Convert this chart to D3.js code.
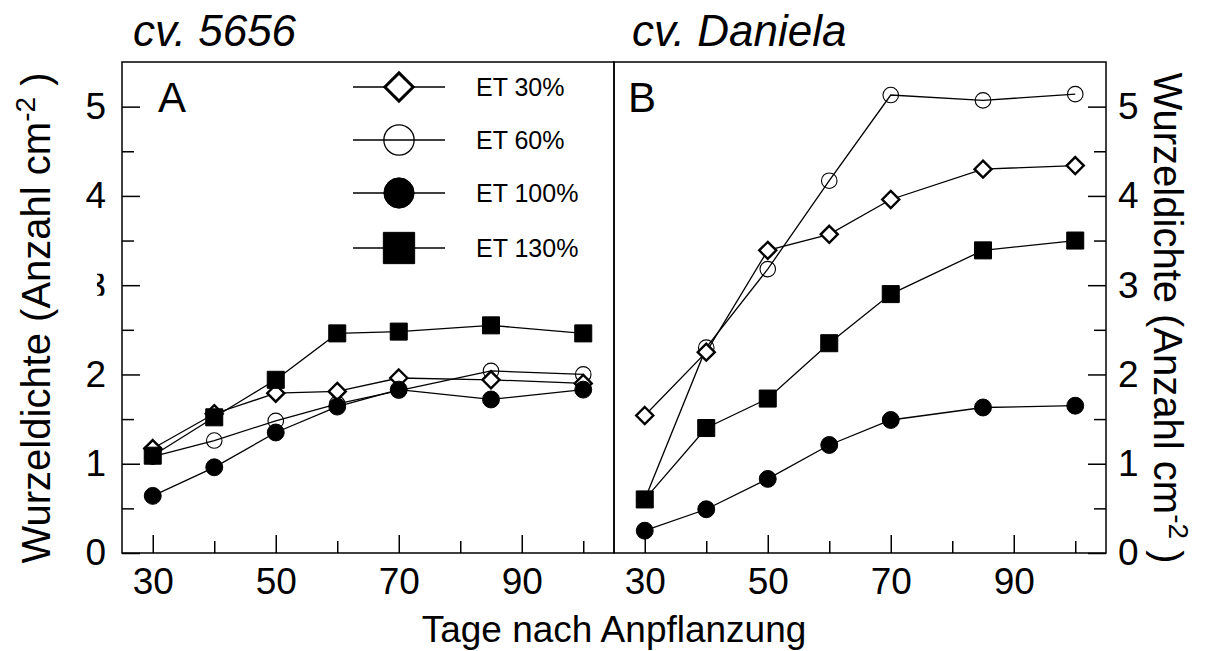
<!DOCTYPE html>
<html>
<head>
<meta charset="utf-8">
<script src="https://cdn.jsdelivr.net/npm/d3@7"></script>
<style>
  body { margin: 0; background: #fff; }
  svg { font-family: "Liberation Sans", Arial, sans-serif; }
</style>
</head>
<body>
<div id="chart"></div>
<script>
// data
const days = [30, 40, 50, 60, 70, 85, 100];
const seriesNames = ["ET 30%", "ET 60%", "ET 100%", "ET 130%"];

// panel A, cv. 5656
const a_et30  = [1.17, 1.56, 1.79, 1.81, 1.96, 1.94, 1.90];
const a_et60  = [1.08, 1.26, 1.48, 1.67, 1.82, 2.04, 2.00];
const a_et100 = [0.64, 0.96, 1.35, 1.64, 1.83, 1.72, 1.83];
const a_et130 = [1.09, 1.52, 1.94, 2.46, 2.48, 2.55, 2.46];

// panel B, cv. Daniela
const b_et30  = [1.54, 2.25, 3.39, 3.57, 3.96, 4.30, 4.34];
const b_et60  = [0.60, 2.30, 3.18, 4.17, 5.13, 5.07, 5.14];
const b_et100 = [0.25, 0.49, 0.83, 1.21, 1.49, 1.63, 1.65];
const b_et130 = [0.60, 1.40, 1.73, 2.35, 2.90, 3.39, 3.50];

const xMajor = [30, 50, 70, 90];
const xMinor = [40, 60, 80, 100];
const yMajor = [0, 1, 2, 3, 4, 5];
const yMinor = [0.5, 1.5, 2.5, 3.5, 4.5];

const W = 1209, H = 651;
const svg = d3.select("#chart").append("svg")
    .attr("width", W)
    .attr("height", H);

const plotTop = 62, plotBottom = 553;
const y = d3.scaleLinear().domain([0, 5.5]).range([plotBottom, plotTop]);
const xA = d3.scaleLinear().domain([25, 105]).range([122, 614]);
const xB = d3.scaleLinear().domain([25, 105]).range([614, 1106]);

// diamond = square turned 45 degrees (d3's own diamond is too narrow)
const squareDiamond = {
    draw(ctx, size) {
        const r = Math.sqrt(size) / 2;
        ctx.moveTo(0, -r); ctx.lineTo(r, 0); ctx.lineTo(0, r); ctx.lineTo(-r, 0); ctx.closePath();
    }
};

// marker style per series: [size in plot, size in legend]
const marker = {
    "ET 30%":  { type: squareDiamond,    fill: "#fff", sw: [2.4, 3],   size: [290, 800] },
    "ET 60%":  { type: d3.symbolCircle,  fill: "none", sw: [1.1, 1.3], size: [190, 720] },
    "ET 100%": { type: d3.symbolCircle,  fill: "#000", sw: [1, 1],     size: [225, 720] },
    "ET 130%": { type: d3.symbolSquare,  fill: "#000", sw: [1, 1],     size: [290, 980] }
};

function drawMarker(g, name, cx, cy, k) {
    const m = marker[name];
    g.append("path")
        .attr("d", d3.symbol().type(m.type).size(m.size[k])())
        .attr("transform", `translate(${cx},${cy})`)
        .attr("fill", m.fill)
        .attr("stroke", "#000")
        .attr("stroke-width", m.sw[k]);
}

function drawPanel(x, data, side) {
    const g = svg.append("g");

    // x axis ticks (inward)
    g.append("g")
        .attr("transform", `translate(0,${plotBottom})`)
        .call(d3.axisBottom(x).tickValues(xMajor).tickSize(-18).tickPadding(15))
        .call(a => a.select(".domain").remove())
        .call(a => a.selectAll("text").attr("font-size", 37).attr("font-family", "Liberation Sans, Arial, sans-serif"));
    g.append("g")
        .attr("transform", `translate(0,${plotBottom})`)
        .call(d3.axisBottom(x).tickValues(xMinor).tickSize(-12).tickFormat(""))
        .call(a => a.select(".domain").remove());

    // y axis on the outer side
    const xPos = side === "left" ? x.range()[0] : x.range()[1];
    const axMaj = side === "left" ? d3.axisLeft(y) : d3.axisRight(y);
    const axMin = side === "left" ? d3.axisLeft(y) : d3.axisRight(y);
    const yg = g.append("g")
        .attr("transform", `translate(${xPos},0)`)
        .call(axMaj.tickValues(yMajor).tickSize(-18).tickPadding(side === "left" ? 16 : 12).tickFormat(d3.format("d")))
        .call(a => a.select(".domain").remove())
        .call(a => a.selectAll("text").attr("font-size", 37).attr("font-family", "Liberation Sans, Arial, sans-serif"));
    g.append("g")
        .attr("transform", `translate(${xPos},0)`)
        .call(axMin.tickValues(yMinor).tickSize(-12).tickFormat(""))
        .call(a => a.select(".domain").remove());

    g.selectAll(".tick line").attr("stroke", "#000").attr("stroke-width", 1.5);

    // frame
    g.append("rect")
        .attr("x", x.range()[0]).attr("y", plotTop)
        .attr("width", x.range()[1] - x.range()[0]).attr("height", plotBottom - plotTop)
        .attr("fill", "none").attr("stroke", "#000").attr("stroke-width", 1.5);

    // series, drawn so the filled markers sit on top
    const order = ["ET 60%", "ET 30%", "ET 100%", "ET 130%"];
    const line = d3.line()
        .x((d, i) => x(days[i]))
        .y(d => y(d));
    order.forEach(name => {
        g.append("path")
            .datum(data[name])
            .attr("fill", "none")
            .attr("stroke", "#000")
            .attr("stroke-width", 1.3)
            .attr("d", line);
    });
    order.forEach(name => {
        data[name].forEach((v, i) => drawMarker(g, name, x(days[i]), y(v), 0));
    });
    return yg;
}

const ygA = drawPanel(xA, { "ET 30%": a_et30, "ET 60%": a_et60, "ET 100%": a_et100, "ET 130%": a_et130 }, "left");
drawPanel(xB, { "ET 30%": b_et30, "ET 60%": b_et60, "ET 100%": b_et100, "ET 130%": b_et130 }, "right");

// the "3" on the left axis is mostly lost in the original; keep only a sliver of it
svg.append("clipPath").attr("id", "clip3")
    .append("rect").attr("x", -25).attr("y", -12).attr("width", 9).attr("height", 22);
ygA.selectAll(".tick").filter(d => d === 3).select("text")
    .attr("clip-path", "url(#clip3)");

// panel titles
svg.append("text").attr("x", 133).attr("y", 46)
    .attr("font-size", 44).attr("font-style", "italic").text("cv. 5656");
svg.append("text").attr("x", 632).attr("y", 46)
    .attr("font-size", 44).attr("font-style", "italic").text("cv. Daniela");

// panel letters
svg.append("text").attr("x", 158).attr("y", 112).attr("font-size", 42).text("A");
svg.append("text").attr("x", 628).attr("y", 112).attr("font-size", 42).text("B");

// legend
const legY = [87, 140, 193, 248];
seriesNames.forEach((name, i) => {
    const lg = svg.append("g");
    lg.append("line").attr("x1", 353).attr("x2", 445)
        .attr("y1", legY[i]).attr("y2", legY[i])
        .attr("stroke", "#000").attr("stroke-width", 1.3);
    drawMarker(lg, name, 399, legY[i], 1);
    lg.append("text").attr("x", 476).attr("y", legY[i] + 9)
        .attr("font-size", 25).text(name);
});

// axis titles
svg.append("text")
    .attr("x", 614).attr("y", 642)
    .attr("text-anchor", "middle")
    .attr("font-size", 37)
    .text("Tage nach Anpflanzung");

function yTitle(cx, cy, rot) {
    const t = svg.append("text")
        .attr("transform", `translate(${cx},${cy}) rotate(${rot})`)
        .attr("text-anchor", "middle")
        .attr("font-size", 40);
    t.append("tspan").text("Wurzeldichte (Anzahl cm");
    t.append("tspan").attr("font-size", 28).attr("dy", -15).text("-2");
    t.append("tspan").attr("dy", 15).text(" )");
}
yTitle(50, 318, -90);
yTitle(1154, 318, 90);
</script>
</body>
</html>
